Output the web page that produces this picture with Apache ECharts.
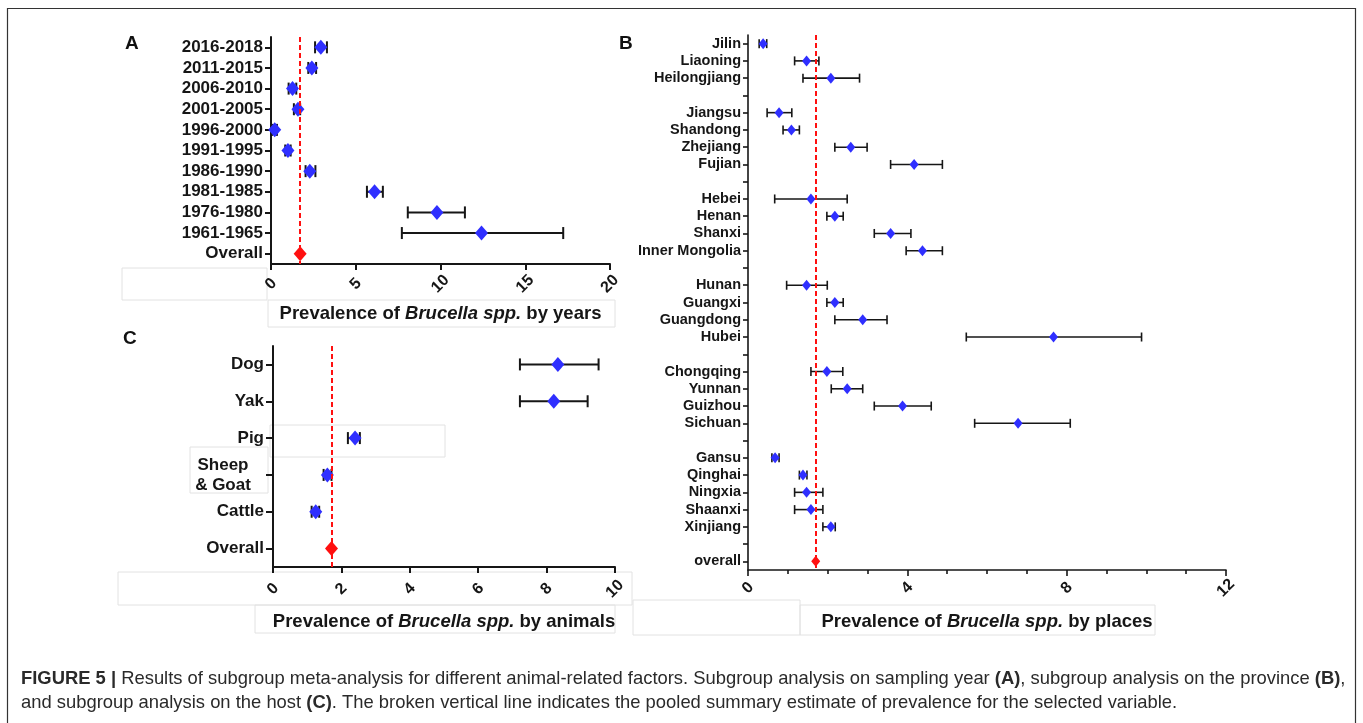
<!DOCTYPE html>
<html>
<head>
<meta charset="utf-8">
<script src="https://cdn.jsdelivr.net/npm/echarts@6/dist/echarts.min.js"></script>
<style>
html,body{margin:0;padding:0;background:#fff;}
#chart{width:1363px;height:723px;}
</style>
</head>
<body>
<div id="chart"></div>
<script>
// ---------- Panel A: by years ----------
const yearCats = ['2016-2018','2011-2015','2006-2010','2001-2005','1996-2000','1991-1995','1986-1990','1981-1985','1976-1980','1961-1965','Overall'];
const yearMean = [2.94, 2.41, 1.27, 1.59, 0.22, 1.00, 2.29, 6.11, 9.79, 12.42, null];
const yearLow  = [2.60, 2.20, 1.04, 1.35, 0.06, 0.84, 2.04, 5.66, 8.07, 7.72, null];
const yearHigh = [3.30, 2.66, 1.49, 1.72, 0.35, 1.16, 2.62, 6.60, 11.44, 17.24, null];
const yearOverall = 1.72;
const yearTicks = [0, 5, 10, 15, 20];

// ---------- Panel B: by places ----------
const placeCats = ['Jilin','Liaoning','Heilongjiang','',
  'Jiangsu','Shandong','Zhejiang','Fujian','',
  'Hebei','Henan','Shanxi','Inner Mongolia','',
  'Hunan','Guangxi','Guangdong','Hubei','',
  'Chongqing','Yunnan','Guizhou','Sichuan','',
  'Gansu','Qinghai','Ningxia','Shaanxi','Xinjiang','',
  'overall'];
const placeMean = [0.38, 1.47, 2.08, null,
  0.78, 1.09, 2.58, 4.17, null,
  1.58, 2.18, 3.58, 4.38, null,
  1.47, 2.18, 2.88, 7.67, null,
  1.98, 2.49, 3.88, 6.78, null,
  0.68, 1.38, 1.47, 1.58, 2.08, null,
  null];
const placeLow = [0.28, 1.17, 1.38, null,
  0.48, 0.88, 2.18, 3.58, null,
  0.67, 1.98, 3.17, 3.97, null,
  0.97, 1.98, 2.18, 5.48, null,
  1.58, 2.09, 3.17, 5.69, null,
  0.60, 1.29, 1.17, 1.17, 1.88, null,
  null];
const placeHigh = [0.47, 1.78, 2.80, null,
  1.10, 1.29, 2.99, 4.88, null,
  2.49, 2.39, 4.09, 4.88, null,
  1.99, 2.39, 3.49, 9.88, null,
  2.38, 2.88, 4.60, 8.09, null,
  0.78, 1.48, 1.88, 1.88, 2.19, null,
  null];
const placeOverall = 1.70;
const placeTicks = [0, 4, 8, 12];

// ---------- Panel C: by animals ----------
const animalCats = ['Dog','Yak','Pig','Sheep\n& Goat','Cattle','Overall'];
const animalMean = [8.33, 8.21, 2.40, 1.59, 1.25, null];
const animalLow  = [7.22, 7.22, 2.19, 1.48, 1.13, null];
const animalHigh = [9.52, 9.20, 2.54, 1.71, 1.35, null];
const animalOverall = 1.71;
const animalTicks = [0, 2, 4, 6, 8, 10];

const INK = '#161616';
const BLUE = '#2f2fff';
const RED = '#ff1010';
const SANS = 'Liberation Sans, Arial, sans-serif';

function pts(means) {
  const out = [];
  means.forEach((m, i) => { if (m !== null) out.push([m, i]); });
  return out;
}
function bars(lows, highs) {
  const out = [];
  lows.forEach((l, i) => { if (l !== null) out.push([l, highs[i], i]); });
  return out;
}
function errRender(capH, lw) {
  return function (params, api) {
    const a = api.coord([api.value(0), api.value(2)]);
    const b = api.coord([api.value(1), api.value(2)]);
    const st = { stroke: INK, lineWidth: lw };
    return { type: 'group', children: [
      { type: 'line', shape: { x1: a[0], y1: a[1], x2: b[0], y2: b[1] }, style: st },
      { type: 'line', shape: { x1: a[0], y1: a[1] - capH, x2: a[0], y2: a[1] + capH }, style: st },
      { type: 'line', shape: { x1: b[0], y1: b[1] - capH, x2: b[0], y2: b[1] + capH }, style: st }
    ]};
  };
}
function xAx(idx, ticks, name, lw, margin, gap, minor) {
  return {
    type: 'value', gridIndex: idx,
    min: ticks[0], max: ticks[ticks.length - 1], interval: ticks[1] - ticks[0],
    splitLine: { show: false },
    axisLine: { show: true, onZero: false, lineStyle: { color: INK, width: lw } },
    axisTick: { show: true, length: 6, lineStyle: { color: INK, width: lw } },
    minorTick: minor ? { show: true, splitNumber: minor, length: 4, lineStyle: { color: INK, width: lw } } : { show: false },
    axisLabel: { rotate: 45, align: 'center', verticalAlign: 'middle', margin: margin,
      color: INK, fontFamily: SANS, fontWeight: 'bold', fontSize: 16 },
    name: 'Prevalence of {i|Brucella spp.} by ' + name,
    nameLocation: 'middle', nameGap: gap,
    nameTextStyle: { color: INK, fontFamily: SANS, fontWeight: 'bold', fontSize: 18.5,
      rich: { i: { fontStyle: 'italic', fontWeight: 'bold', fontSize: 18.5, color: INK, fontFamily: SANS } } }
  };
}
function yAx(idx, cats, lw, fs, margin, tickLen) {
  return {
    type: 'category', gridIndex: idx, data: cats, inverse: true,
    axisLine: { show: true, lineStyle: { color: INK, width: lw } },
    axisTick: { show: true, alignWithLabel: true, interval: 0, length: tickLen, lineStyle: { color: INK, width: lw } },
    axisLabel: { interval: 0, margin: margin, color: INK, fontFamily: SANS,
      fontWeight: 'bold', fontSize: fs, lineHeight: fs + 3,
      formatter: function (v) {
        if (v.indexOf('\n') < 0) return v;
        return v.split('\n').map(function (s) { return '{s|' + s + '}'; }).join('\n');
      },
      rich: { s: { align: 'center', width: 62, padding: [0, 10, 0, 0], color: INK, fontFamily: SANS,
        fontWeight: 'bold', fontSize: fs, lineHeight: fs + 3 } } },
    splitLine: { show: false }
  };
}
function dashLine(v) {
  return { silent: true, symbol: 'none', label: { show: false },
    lineStyle: { color: RED, type: [5, 3], width: 2 },
    data: [{ xAxis: v }] };
}

const grids = [
  { left: 271, top: 37, width: 339, height: 227 },
  { left: 748, top: 35, width: 478, height: 535 },
  { left: 273, top: 346, width: 342, height: 221 }
];

const series = [
  { type: 'custom', xAxisIndex: 0, yAxisIndex: 0, renderItem: errRender(6, 2), encode: { x: [0, 1], y: 2 }, data: bars(yearLow, yearHigh), z: 2 },
  { type: 'scatter', xAxisIndex: 0, yAxisIndex: 0, symbol: 'diamond', symbolSize: [13, 15], itemStyle: { color: BLUE, opacity: 1 }, data: pts(yearMean), z: 3,
    markLine: dashLine(yearOverall) },
  { type: 'scatter', xAxisIndex: 0, yAxisIndex: 0, symbol: 'diamond', symbolSize: [13, 15], itemStyle: { color: RED, opacity: 1 }, data: [[yearOverall, yearCats.length - 1]], z: 4 },

  { type: 'custom', xAxisIndex: 1, yAxisIndex: 1, renderItem: errRender(4.5, 1.6), encode: { x: [0, 1], y: 2 }, data: bars(placeLow, placeHigh), z: 2 },
  { type: 'scatter', xAxisIndex: 1, yAxisIndex: 1, symbol: 'diamond', symbolSize: [9, 11], itemStyle: { color: BLUE, opacity: 1 }, data: pts(placeMean), z: 3,
    markLine: dashLine(placeOverall) },
  { type: 'scatter', xAxisIndex: 1, yAxisIndex: 1, symbol: 'diamond', symbolSize: [9, 11], itemStyle: { color: RED, opacity: 1 }, data: [[placeOverall, placeCats.length - 1]], z: 4 },

  { type: 'custom', xAxisIndex: 2, yAxisIndex: 2, renderItem: errRender(6, 2), encode: { x: [0, 1], y: 2 }, data: bars(animalLow, animalHigh), z: 2 },
  { type: 'scatter', xAxisIndex: 2, yAxisIndex: 2, symbol: 'diamond', symbolSize: [13, 15], itemStyle: { color: BLUE, opacity: 1 }, data: pts(animalMean), z: 3,
    markLine: dashLine(animalOverall) },
  { type: 'scatter', xAxisIndex: 2, yAxisIndex: 2, symbol: 'diamond', symbolSize: [13, 15], itemStyle: { color: RED, opacity: 1 }, data: [[animalOverall, animalCats.length - 1]], z: 4 }
];

function box(x, y, w, h) {
  return { type: 'rect', silent: true, z: 0, shape: { x: x, y: y, width: w, height: h },
    style: { fill: 'none', stroke: '#e2e2e2', lineWidth: 1 } };
}
function letter(t, x, y) {
  return { type: 'text', silent: true, x: x, y: y,
    style: { text: t, fill: '#111', fontFamily: SANS, fontWeight: 'bold', fontSize: 19 } };
}
const capFont = "'Liberation Sans', Arial, sans-serif";
const caption = '{b|FIGURE 5 |} Results of subgroup meta-analysis for different animal-related factors. Subgroup analysis on sampling year {b|(A)}, subgroup analysis on the province {b|(B)},\n' +
  'and subgroup analysis on the host {b|(C)}. The broken vertical line indicates the pooled summary estimate of prevalence for the selected variable.';

const graphics = [
  { type: 'rect', silent: true, z: 0, shape: { x: 7.5, y: 8.5, width: 1348, height: 740 },
    style: { fill: 'none', stroke: '#333', lineWidth: 1.2 } },
  box(122, 268, 145, 32), box(268, 300, 347, 27),
  box(270, 425, 175, 32), box(190, 447, 78, 46),
  box(118, 572, 514, 33), box(255, 605, 360, 28),
  box(633, 600, 167, 35), box(800, 605, 355, 30),
  letter('A', 125, 34), letter('B', 619, 34), letter('C', 123, 329),
  { type: 'text', silent: true, x: 21, y: 667,
    style: { text: caption, fill: '#2a2a2a', fontFamily: capFont, fontSize: 18.4, lineHeight: 24,
      rich: { b: { fontWeight: 'bold', fontFamily: capFont, fontSize: 18.4, fill: '#2a2a2a', lineHeight: 24 } } } }
];

const chart = echarts.init(document.getElementById('chart'), null, { renderer: 'canvas' });
chart.setOption({
  backgroundColor: '#ffffff',
  animation: false,
  grid: grids,
  xAxis: [
    xAx(0, yearTicks, 'years', 2, 20, 40, 0),
    xAx(1, placeTicks, 'places', 1.6, 18, 42, 4),
    xAx(2, animalTicks, 'animals', 2, 22, 45, 0)
  ],
  yAxis: [
    yAx(0, yearCats, 2, 17, 8, 6),
    yAx(1, placeCats, 1.6, 14.5, 7, 5),
    yAx(2, animalCats, 2, 17, 9, 7)
  ],
  series: series,
  graphic: graphics
});
</script>
</body>
</html>
